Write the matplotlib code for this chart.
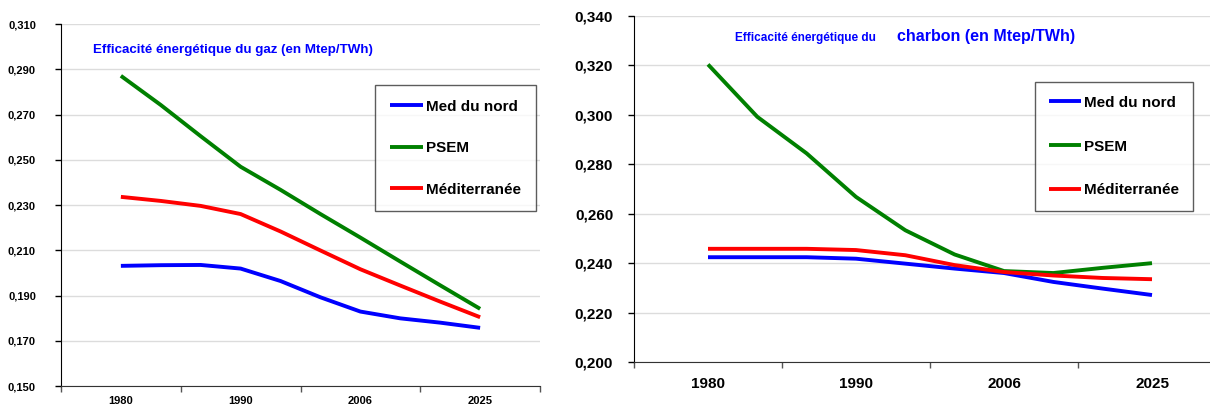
import numpy as np
import matplotlib
matplotlib.use("Agg")
import matplotlib.pyplot as plt
from matplotlib.ticker import FixedLocator, FuncFormatter

plt.rcParams['font.family'] = ['Liberation Sans', 'DejaVu Sans']

# categories (10 points per series, labelled every 3rd)
annees = ['1980', '1990', '2006', '2025']
series_noms = ['Med du nord', 'PSEM', 'Méditerranée']
couleurs = ['#0000FF', '#008000', '#FF0000']

# gaz
gaz_med_nord = [0.2031, 0.2034, 0.2035, 0.2019, 0.1964, 0.1892, 0.1829, 0.1799, 0.1780, 0.1757]
gaz_psem = [0.2871, 0.2742, 0.2604, 0.2469, 0.2367, 0.2260, 0.2156, 0.2050, 0.1945, 0.1841]
gaz_med = [0.2336, 0.2318, 0.2296, 0.2260, 0.2183, 0.2099, 0.2016, 0.1944, 0.1873, 0.1804]

# charbon
charbon_med_nord = [0.2424, 0.2424, 0.2424, 0.2418, 0.2398, 0.2378, 0.2360, 0.2324, 0.2297, 0.2271]
charbon_psem = [0.3204, 0.2992, 0.2844, 0.2668, 0.2533, 0.2435, 0.2368, 0.2360, 0.2381, 0.2400]
charbon_med = [0.2458, 0.2458, 0.2458, 0.2453, 0.2432, 0.2392, 0.2364, 0.2350, 0.2340, 0.2335]

W, H = 1210, 405
fig = plt.figure(figsize=(W / 100, H / 100), dpi=100)


def virgule(v, pos):
    return f"{v:.3f}".replace('.', ',')


def make_axes(rect, series, ymin, ymax, fs_y, fs_x, pad_y, pad_x):
    ax = fig.add_axes(rect)
    x = np.arange(1, len(series[0]) + 1)
    for vals, nom, c in zip(series, series_noms, couleurs):
        ax.plot(x, vals, color=c, lw=2.8, label=nom, solid_joinstyle='round',
                solid_capstyle='butt')
    ax.set_xlim(-0.5, 11.5)
    ax.set_ylim(ymin, ymax)
    ax.yaxis.set_major_locator(FixedLocator(np.arange(ymin, ymax + 1e-9, 0.02)))
    ax.yaxis.set_major_formatter(FuncFormatter(virgule))
    ax.grid(axis='y', color='#dcdcdc', lw=1)
    ax.set_axisbelow(True)
    # tick marks between groups, labels in the middle
    ax.xaxis.set_major_locator(FixedLocator([-0.5, 2.5, 5.5, 8.5, 11.5]))
    ax.xaxis.set_major_formatter(FuncFormatter(lambda v, p: ''))
    ax.xaxis.set_minor_locator(FixedLocator([1, 4, 7, 10]))
    ax.set_xticklabels(annees, minor=True)
    ax.tick_params(axis='x', which='major', length=4, width=1, color='#555555', direction='out')
    ax.tick_params(axis='x', which='minor', length=0, pad=pad_x, labelsize=fs_x)
    ax.tick_params(axis='y', length=4, width=1, pad=pad_y, labelsize=fs_y)
    for lab in ax.get_xticklabels(minor=True) + ax.get_yticklabels():
        lab.set_fontweight('bold')
    ax.spines['top'].set_visible(False)
    ax.spines['right'].set_visible(False)
    ax.spines['left'].set_color('black')
    ax.spines['bottom'].set_color('#333333')
    return ax


# gauche : gaz
ax1 = make_axes([61 / W, 1 - 386 / H, 479 / W, 362 / H],
                [gaz_med_nord, gaz_psem, gaz_med], 0.150, 0.310, 8, 8, 14, 7)
ax1.text((93 - 61) / 479, 0.928, "Efficacité énergétique du gaz (en Mtep/TWh)", transform=ax1.transAxes,
         color='#0000FF', fontsize=9.6, fontweight='bold', va='center', ha='left')
leg1 = ax1.legend(loc='upper left', bbox_to_anchor=((375 - 61) / 479, (386 - 85) / 362),
                  prop={'weight': 'bold', 'size': 11}, frameon=True, fancybox=False,
                  edgecolor='#333333', handlelength=2.2, handletextpad=0.2,
                  labelspacing=1.8, borderpad=0.95, borderaxespad=0)
leg1.get_frame().set_linewidth(1.0)

# droite : charbon
ax2 = make_axes([634 / W, 1 - 362 / H, 592 / W, 346 / H],
                [charbon_med_nord, charbon_psem, charbon_med], 0.200, 0.340, 11, 11, 11, 11)
ax2.text((735 - 634) / 592, 0.928, "Efficacité énergétique du ", transform=ax2.transAxes,
         color='#0000FF', fontsize=8.5, fontweight='bold', va='baseline', ha='left')
ax2.text((897 - 634) / 592, 0.928, "charbon (en Mtep/TWh)", transform=ax2.transAxes,
         color='#0000FF', fontsize=11.5, fontweight='bold', va='baseline', ha='left')
leg2 = ax2.legend(loc='upper left', bbox_to_anchor=((1035 - 634) / 592, (362 - 82) / 346),
                  prop={'weight': 'bold', 'size': 11}, frameon=True, fancybox=False,
                  edgecolor='#333333', handlelength=2.1, handletextpad=0.2,
                  labelspacing=1.95, borderpad=0.9, borderaxespad=0)
leg2.get_frame().set_linewidth(1.0)

fig.savefig("out.png", dpi=100)
